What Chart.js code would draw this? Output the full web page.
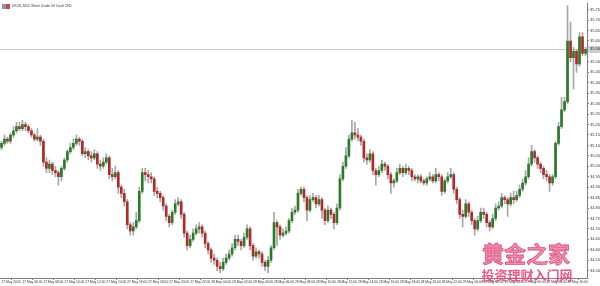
<!DOCTYPE html>
<html>
<head>
<meta charset="utf-8">
<script src="https://cdn.jsdelivr.net/npm/chart.js@4.4.0/dist/chart.umd.min.js"></script>
<style>
  html, body { margin: 0; padding: 0; background: #fff; }
  #wrap { width: 600px; height: 286px; position: relative; }
</style>
</head>
<body>
<div id="wrap"><canvas id="myChart"></canvas></div>
<script>
// titolo e dati del grafico (candele M15)
const symbolTitle = 'UKOIL,M15: Brent Crude Oil Cash CFD';

const opens = [
  35.09,35.11,35.13,35.12,35.15,35.17,35.19,35.18,35.20,35.19,
  35.17,35.15,35.13,35.14,35.12,35.02,34.99,35.01,34.98,34.97,
  34.95,34.99,35.03,35.07,35.09,35.11,35.13,35.12,35.06,35.07,
  35.05,35.04,35.06,35.01,35.00,35.02,35.04,34.96,34.95,34.97,
  34.90,34.87,34.83,34.72,34.69,34.71,34.74,34.88,34.97,34.96,
  34.95,34.94,34.88,34.87,34.85,34.81,34.76,34.73,34.78,34.82,
  34.83,34.77,34.68,34.62,34.65,34.68,34.70,34.71,34.68,34.63,
  34.60,34.56,34.55,34.52,34.51,34.54,34.56,34.58,34.61,34.65,
  34.64,34.62,34.66,34.70,34.62,34.57,34.59,34.58,34.54,34.52,
  34.55,34.61,34.73,34.71,34.67,34.68,34.69,34.74,34.78,34.79,
  34.87,34.89,34.85,34.79,34.84,34.85,34.82,34.84,34.79,34.74,
  34.79,34.77,34.73,34.80,34.94,35.00,35.05,35.13,35.16,35.15,
  35.14,35.12,35.04,35.03,35.06,34.98,34.96,34.98,35.01,35.00,
  34.96,34.92,34.93,34.97,34.99,34.97,34.99,34.98,34.95,34.94,
  34.95,34.93,34.92,34.94,34.95,34.93,34.96,34.95,34.88,34.93,
  34.95,34.96,34.89,34.84,34.77,34.76,34.82,34.78,34.74,34.70,
  34.74,34.78,34.77,34.73,34.71,34.75,34.80,34.81,34.85,34.84,
  34.82,34.85,34.84,34.86,34.89,34.92,34.95,35.01,35.07,35.04,
  35.01,34.99,34.96,34.95,34.92,34.95,35.11,35.19,35.27,35.31,
  35.60,35.52,35.55,35.49,35.62,35.54
];

const highs = [
  35.12,35.15,35.14,35.16,35.19,35.21,35.21,35.22,35.21,35.20,
  35.18,35.16,35.18,35.15,35.13,35.04,35.03,35.02,35.00,34.98,
  35.00,35.04,35.08,35.11,35.13,35.15,35.14,35.13,35.09,35.08,
  35.07,35.08,35.07,35.03,35.04,35.06,35.05,34.99,35.00,34.98,
  34.91,34.89,34.84,34.73,34.73,34.78,34.90,34.99,34.99,34.98,
  34.97,34.95,34.90,34.88,34.86,34.82,34.77,34.79,34.84,34.85,
  34.84,34.78,34.69,34.67,34.70,34.72,34.73,34.72,34.69,34.64,
  34.61,34.58,34.56,34.54,34.56,34.58,34.60,34.63,34.67,34.67,
  34.65,34.68,34.72,34.71,34.63,34.61,34.60,34.59,34.55,34.57,
  34.62,34.78,34.74,34.72,34.70,34.71,34.75,34.80,34.81,34.89,
  34.90,34.90,34.86,34.86,34.87,34.86,34.86,34.85,34.80,34.81,
  34.80,34.78,34.82,34.96,35.02,35.09,35.15,35.22,35.21,35.18,
  35.15,35.13,35.06,35.08,35.07,34.99,35.00,35.03,35.02,35.01,
  34.97,34.94,34.99,35.01,35.00,35.01,35.00,34.99,34.96,34.96,
  34.96,34.94,34.95,34.97,34.96,34.99,34.97,34.96,34.94,34.97,
  34.99,34.97,34.90,34.85,34.79,34.84,34.83,34.79,34.75,34.76,
  34.80,34.80,34.78,34.74,34.77,34.82,34.83,34.87,34.86,34.85,
  34.87,34.88,34.88,34.91,34.94,34.98,35.04,35.10,35.08,35.05,
  35.02,35.00,34.98,34.96,34.96,35.12,35.21,35.33,35.33,35.77,
  35.69,35.57,35.56,35.64,35.64,35.57
];

const lows = [
  35.08,35.10,35.11,35.11,35.14,35.16,35.17,35.17,35.17,35.16,
  35.14,35.12,35.12,35.10,35.00,34.97,34.97,34.96,34.95,34.91,
  34.93,34.98,35.02,35.06,35.08,35.10,35.10,35.05,35.04,35.03,
  35.02,35.03,34.99,34.98,34.99,35.01,34.94,34.93,34.94,34.87,
  34.85,34.81,34.70,34.67,34.67,34.70,34.73,34.87,34.93,34.92,
  34.92,34.86,34.85,34.83,34.79,34.74,34.71,34.72,34.77,34.81,
  34.75,34.66,34.60,34.61,34.64,34.67,34.68,34.66,34.61,34.58,
  34.54,34.53,34.50,34.49,34.50,34.53,34.55,34.57,34.60,34.62,
  34.60,34.61,34.65,34.60,34.55,34.56,34.56,34.52,34.50,34.49,
  34.54,34.60,34.62,34.65,34.66,34.67,34.68,34.73,34.77,34.78,
  34.86,34.83,34.74,34.78,34.83,34.80,34.81,34.75,34.72,34.73,
  34.75,34.70,34.72,34.79,34.93,34.99,35.04,35.12,35.13,35.12,
  35.10,35.02,35.01,35.02,34.96,34.91,34.95,34.97,34.98,34.94,
  34.87,34.90,34.92,34.96,34.95,34.96,34.96,34.93,34.93,34.92,
  34.92,34.91,34.91,34.93,34.92,34.92,34.93,34.86,34.87,34.92,
  34.94,34.87,34.82,34.75,34.71,34.75,34.76,34.72,34.67,34.69,
  34.73,34.75,34.71,34.69,34.70,34.74,34.79,34.80,34.82,34.76,
  34.81,34.82,34.83,34.85,34.88,34.91,34.94,35.00,35.02,34.99,
  34.97,34.94,34.93,34.88,34.91,34.94,35.10,35.18,35.26,35.30,
  35.50,35.37,35.45,35.48,35.53,35.53
];

const closes = [
  35.11,35.13,35.12,35.15,35.17,35.19,35.18,35.20,35.19,35.17,
  35.15,35.13,35.14,35.12,35.02,34.99,35.01,34.98,34.97,34.95,
  34.99,35.03,35.07,35.09,35.11,35.13,35.12,35.06,35.07,35.05,
  35.04,35.06,35.01,35.00,35.02,35.04,34.96,34.95,34.97,34.90,
  34.87,34.83,34.72,34.69,34.71,34.74,34.88,34.97,34.96,34.95,
  34.94,34.88,34.87,34.85,34.81,34.76,34.73,34.78,34.82,34.83,
  34.77,34.68,34.62,34.65,34.68,34.70,34.71,34.68,34.63,34.60,
  34.56,34.55,34.52,34.51,34.54,34.56,34.58,34.61,34.65,34.64,
  34.62,34.66,34.70,34.62,34.57,34.59,34.58,34.54,34.52,34.55,
  34.61,34.73,34.71,34.67,34.68,34.69,34.74,34.78,34.79,34.87,
  34.89,34.85,34.79,34.84,34.85,34.82,34.84,34.79,34.74,34.79,
  34.77,34.73,34.80,34.94,35.00,35.05,35.13,35.16,35.15,35.14,
  35.12,35.04,35.03,35.06,34.98,34.96,34.98,35.01,35.00,34.96,
  34.92,34.93,34.97,34.99,34.97,34.99,34.98,34.95,34.94,34.95,
  34.93,34.92,34.94,34.95,34.93,34.96,34.95,34.88,34.93,34.95,
  34.96,34.89,34.84,34.77,34.76,34.82,34.78,34.74,34.70,34.74,
  34.78,34.77,34.73,34.71,34.75,34.80,34.81,34.85,34.84,34.82,
  34.85,34.84,34.86,34.89,34.92,34.95,35.01,35.07,35.04,35.01,
  34.99,34.96,34.95,34.92,34.95,35.11,35.19,35.27,35.31,35.60,
  35.52,35.55,35.49,35.62,35.54,35.56
];

// etichette asse tempo (una ogni 7 candele)
const timeLabels = [
  '27 May 2020','27 May 06:00','27 May 08:00','27 May 10:00','27 May 12:00','27 May 14:00','27 May 16:00',
  '27 May 18:00','27 May 20:00','27 May 22:00','28 May 00:00','28 May 02:00','28 May 04:00','28 May 06:00',
  '28 May 08:00','28 May 10:00','28 May 12:00','28 May 14:00','28 May 16:00','28 May 18:00','28 May 20:00',
  '28 May 22:00','29 May 00:00','29 May 02:00','29 May 04:00','29 May 06:00','29 May 08:00','29 May 10:00'
];

// etichette asse prezzi
const priceTicks = [
  34.50,34.55,34.60,34.65,34.70,34.75,34.80,34.85,34.90,34.95,35.00,35.05,35.10,
  35.15,35.20,35.25,35.30,35.35,35.40,35.45,35.50,35.55,35.60,35.65,35.70,35.75
];

const watermark = ['黄金之家', '投资理财入门网'];

const upColor = '#2a7a2a';
const downColor = '#b02a2a';
const wickColor = '#a6a6a6';

const candleIdx = closes.map((c, i) => i);
const bodyColors = closes.map((c, i) => c >= opens[i] ? upColor : downColor);
const lastPrice = closes[closes.length - 1];

// linea del prezzo corrente, titolo e marchio
const overlay = {
  id: 'overlay',
  beforeDatasetsDraw(chart) {
    const { ctx, chartArea, scales } = chart;
    const y = Math.round(scales.y.getPixelForValue(lastPrice)) + 0.5;
    ctx.save();
    ctx.strokeStyle = '#c8c8c8';
    ctx.lineWidth = 1;
    ctx.beginPath();
    ctx.moveTo(chartArea.left, y);
    ctx.lineTo(chartArea.right, y);
    ctx.stroke();
    ctx.restore();
  },
  afterDraw(chart) {
    const { ctx, chartArea, scales } = chart;
    ctx.save();

    // box del prezzo corrente
    const y = scales.y.getPixelForValue(lastPrice);
    ctx.fillStyle = '#cfcfcf';
    ctx.fillRect(chartArea.right + 1, y - 3.5, 13, 7);
    ctx.fillStyle = '#222';
    ctx.font = '4px Arial';
    ctx.textAlign = 'left';
    ctx.textBaseline = 'middle';
    ctx.fillText(lastPrice.toFixed(2), chartArea.right + 3, y);

    // icona + titolo
    ctx.fillStyle = '#7f95c8';
    ctx.fillRect(2, 4, 4, 5);
    ctx.fillStyle = '#c84a4a';
    ctx.fillRect(6, 4, 4, 5);
    ctx.fillStyle = '#333';
    ctx.font = '3.4px Arial';
    ctx.textBaseline = 'middle';
    ctx.fillText(symbolTitle, 12, 6.5);

    // marchio
    ctx.textAlign = 'center';
    ctx.globalAlpha = 0.9;
    ctx.font = 'bold 22px "Noto Sans CJK SC"';
    ctx.fillStyle = '#ee7fa4';
    ctx.strokeStyle = '#d94878';
    ctx.lineWidth = 0.8;
    ctx.fillText(watermark[0], 526, 254);
    ctx.strokeText(watermark[0], 526, 254);
    ctx.font = 'bold 13px "Noto Sans CJK SC"';
    ctx.fillStyle = '#e8487a';
    ctx.fillText(watermark[1], 527, 275);
    ctx.restore();
  }
};

const ctx = document.getElementById('myChart').getContext('2d');
new Chart(ctx, {
  type: 'bar',
  data: {
    labels: candleIdx,
    datasets: [
      {
        label: 'Corpo',
        data: opens.map((o, i) => [o, closes[i]]),
        backgroundColor: bodyColors,
        barThickness: 2,
        minBarLength: 1,
        grouped: false,
        order: 0
      },
      {
        label: 'Ombra',
        data: lows.map((l, i) => [l, highs[i]]),
        backgroundColor: wickColor,
        barThickness: 1,
        grouped: false,
        order: 1
      }
    ]
  },
  options: {
    responsive: true,
    maintainAspectRatio: false,
    animation: false,
    layout: { padding: 0 },
    plugins: {
      legend: { display: false },
      tooltip: { enabled: false }
    },
    scales: {
      x: {
        offset: true,
        grid: { drawOnChartArea: false, drawTicks: true, tickLength: 2, color: '#808080' },
        border: { display: true, color: '#808080' },
        afterBuildTicks: axis => { axis.ticks = axis.ticks.filter(t => t.value % 7 === 0); },
        afterFit: axis => { axis.height = 8; },
        ticks: {
          autoSkip: false,
          maxRotation: 0,
          align: 'start',
          padding: 0,
          color: '#333',
          font: { size: 3.3, family: 'Arial' },
          callback: v => timeLabels[v / 7]
        }
      },
      y: {
        position: 'right',
        min: 34.465,
        max: 35.78,
        afterBuildTicks: axis => { axis.ticks = priceTicks.map(v => ({ value: v })); },
        afterFit: axis => { axis.width = 13; },
        grid: { drawOnChartArea: false, tickLength: 2, color: '#808080' },
        border: { display: true, color: '#808080' },
        ticks: {
          padding: 1,
          color: '#333',
          font: { size: 4, family: 'Arial' },
          callback: v => v.toFixed(2)
        }
      }
    }
  },
  plugins: [overlay]
});
</script>
</body>
</html>
